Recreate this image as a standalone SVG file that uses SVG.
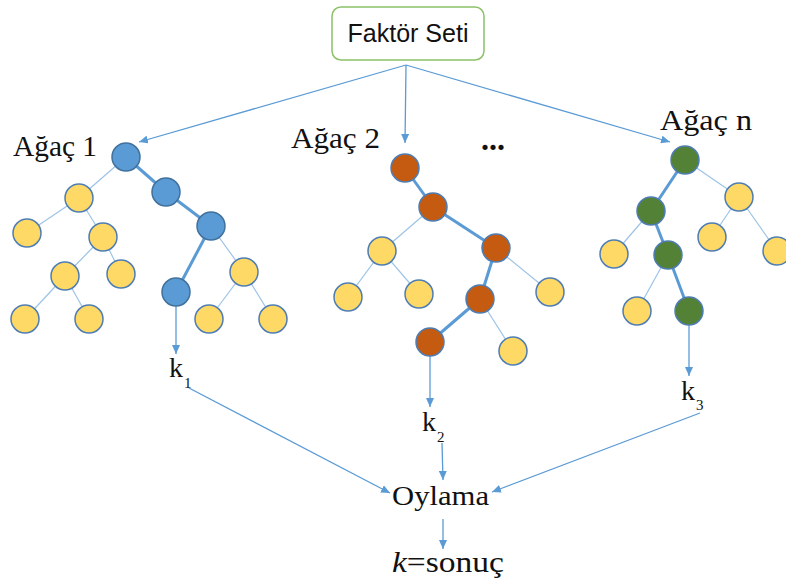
<svg xmlns="http://www.w3.org/2000/svg" width="786" height="582" viewBox="0 0 786 582">
<style>
.serif{font-family:"Liberation Serif","DejaVu Serif",serif;fill:#111}
.sans{font-family:"Liberation Sans","DejaVu Sans",sans-serif;fill:#111}
.arr{stroke:#5B9BD5;stroke-width:1.3;fill:none;marker-end:url(#ah)}
.thin{stroke:#9DC3E6;stroke-width:1.2;fill:none}
.thick{stroke:#5B9BD5;stroke-width:3;fill:none}
.n{stroke:#4E7DB3;stroke-width:1.5}
.b{fill:#5B9BD5;stroke:#41719C}
.y{fill:#FFD966}
.o{fill:#C55A11}
.g{fill:#538135}
</style>
<defs>
<marker id="ah" markerUnits="userSpaceOnUse" markerWidth="9" markerHeight="8" refX="9" refY="4" orient="auto">
<path d="M0,0 L9,4 L0,8 z" fill="#5B9BD5"/>
</marker>
</defs>
<rect width="786" height="582" fill="#fff"/>

<g id="connectors">
<line class="arr" x1="406" y1="65" x2="139" y2="142"/>
<line class="arr" x1="406" y1="65" x2="405" y2="143"/>
<line class="arr" x1="406" y1="65" x2="670" y2="142"/>
<line class="arr" x1="176" y1="306" x2="176" y2="354"/>
<line class="arr" x1="430" y1="356" x2="430" y2="407"/>
<line class="arr" x1="689" y1="325" x2="689" y2="376"/>
<line class="arr" x1="189" y1="388" x2="390" y2="493"/>
<line class="arr" x1="442" y1="443" x2="443" y2="480"/>
<line class="arr" x1="700" y1="413" x2="492" y2="492"/>
<line class="arr" x1="443" y1="519" x2="443" y2="549"/>
<!-- tree 1 edges -->
<line class="thin" x1="126" y1="157" x2="79" y2="198"/>
<line class="thin" x1="79" y1="198" x2="27" y2="233"/>
<line class="thin" x1="79" y1="198" x2="103" y2="237"/>
<line class="thin" x1="103" y1="237" x2="65" y2="276"/>
<line class="thin" x1="103" y1="237" x2="121" y2="274"/>
<line class="thin" x1="65" y1="276" x2="25" y2="319"/>
<line class="thin" x1="65" y1="276" x2="89" y2="319"/>
<line class="thin" x1="211" y1="226" x2="244" y2="272"/>
<line class="thin" x1="244" y1="272" x2="209" y2="319"/>
<line class="thin" x1="244" y1="272" x2="273" y2="319"/>
<line class="thick" x1="126" y1="157" x2="166" y2="192"/>
<line class="thick" x1="166" y1="192" x2="211" y2="226"/>
<line class="thick" x1="211" y1="226" x2="176" y2="292"/>
<!-- tree 2 edges -->
<line class="thin" x1="433" y1="207" x2="382" y2="251"/>
<line class="thin" x1="382" y1="251" x2="348" y2="297"/>
<line class="thin" x1="382" y1="251" x2="419" y2="294"/>
<line class="thin" x1="496" y1="248" x2="550" y2="292"/>
<line class="thin" x1="480" y1="299" x2="513" y2="351"/>
<line class="thick" x1="405" y1="168" x2="433" y2="207"/>
<line class="thick" x1="433" y1="207" x2="496" y2="248"/>
<line class="thick" x1="496" y1="248" x2="480" y2="299"/>
<line class="thick" x1="480" y1="299" x2="430" y2="342"/>
<!-- tree n edges -->
<line class="thin" x1="685" y1="160" x2="739" y2="197"/>
<line class="thin" x1="739" y1="197" x2="712" y2="237"/>
<line class="thin" x1="739" y1="197" x2="777" y2="251"/>
<line class="thin" x1="651" y1="211" x2="614" y2="254"/>
<line class="thin" x1="668" y1="255" x2="637" y2="311"/>
<line class="thick" x1="685" y1="160" x2="651" y2="211"/>
<line class="thick" x1="651" y1="211" x2="668" y2="255"/>
<line class="thick" x1="668" y1="255" x2="689" y2="311"/>
</g>

<g id="faktor-seti">
<rect x="332" y="7" width="152" height="53" rx="9" fill="#fff" stroke="#8CC168" stroke-width="1.5"/>
<text class="sans" x="408" y="42" font-size="26" text-anchor="middle" textLength="121" lengthAdjust="spacingAndGlyphs">Faktör Seti</text>
</g>

<g id="tree1">
<text class="serif" x="13" y="156" font-size="30" textLength="84" lengthAdjust="spacingAndGlyphs">Ağaç 1</text>
<circle class="n b" cx="126" cy="157" r="14"/>
<circle class="n b" cx="166" cy="192" r="14"/>
<circle class="n b" cx="211" cy="226" r="14"/>
<circle class="n b" cx="176" cy="292" r="14"/>
<circle class="n y" cx="79" cy="198" r="14"/>
<circle class="n y" cx="27" cy="233" r="14"/>
<circle class="n y" cx="103" cy="237" r="14"/>
<circle class="n y" cx="65" cy="276" r="14"/>
<circle class="n y" cx="121" cy="274" r="14"/>
<circle class="n y" cx="25" cy="319" r="14"/>
<circle class="n y" cx="89" cy="319" r="14"/>
<circle class="n y" cx="244" cy="272" r="14"/>
<circle class="n y" cx="209" cy="319" r="14"/>
<circle class="n y" cx="273" cy="319" r="14"/>
</g>

<g id="tree2">
<text class="serif" x="291" y="148" font-size="30" textLength="89" lengthAdjust="spacingAndGlyphs">Ağaç 2</text>
<circle class="n o" cx="405" cy="168" r="14"/>
<circle class="n o" cx="433" cy="207" r="14"/>
<circle class="n o" cx="496" cy="248" r="14"/>
<circle class="n o" cx="480" cy="299" r="14"/>
<circle class="n o" cx="430" cy="342" r="14"/>
<circle class="n y" cx="382" cy="251" r="14"/>
<circle class="n y" cx="348" cy="297" r="14"/>
<circle class="n y" cx="419" cy="294" r="14"/>
<circle class="n y" cx="550" cy="292" r="14"/>
<circle class="n y" cx="513" cy="351" r="14"/>
</g>

<g id="dots">
<text class="serif" x="481" y="150" font-size="32" font-weight="bold">...</text>
</g>

<g id="treen">
<text class="serif" x="660" y="130" font-size="30" textLength="92" lengthAdjust="spacingAndGlyphs">Ağaç n</text>
<circle class="n g" cx="685" cy="160" r="14"/>
<circle class="n g" cx="651" cy="211" r="14"/>
<circle class="n g" cx="668" cy="255" r="14"/>
<circle class="n g" cx="689" cy="311" r="14"/>
<circle class="n y" cx="739" cy="197" r="14"/>
<circle class="n y" cx="712" cy="237" r="14"/>
<circle class="n y" cx="777" cy="251" r="14"/>
<circle class="n y" cx="614" cy="254" r="14"/>
<circle class="n y" cx="637" cy="311" r="14"/>
</g>

<g id="k1">
<text class="serif" x="169" y="377" font-size="28">k</text>
<text class="serif" x="184" y="388" font-size="15">1</text>
</g>
<g id="k2">
<text class="serif" x="422" y="431" font-size="28">k</text>
<text class="serif" x="437" y="442" font-size="15">2</text>
</g>
<g id="k3">
<text class="serif" x="681" y="400" font-size="28">k</text>
<text class="serif" x="696" y="410" font-size="15">3</text>
</g>

<g id="oylama">
<text class="serif" x="392" y="505" font-size="28" textLength="97" lengthAdjust="spacingAndGlyphs">Oylama</text>
</g>

<g id="sonuc">
<text class="serif" x="392" y="572" font-size="29" textLength="112" lengthAdjust="spacingAndGlyphs"><tspan font-style="italic">k</tspan>=sonuç</text>
</g>
</svg>
